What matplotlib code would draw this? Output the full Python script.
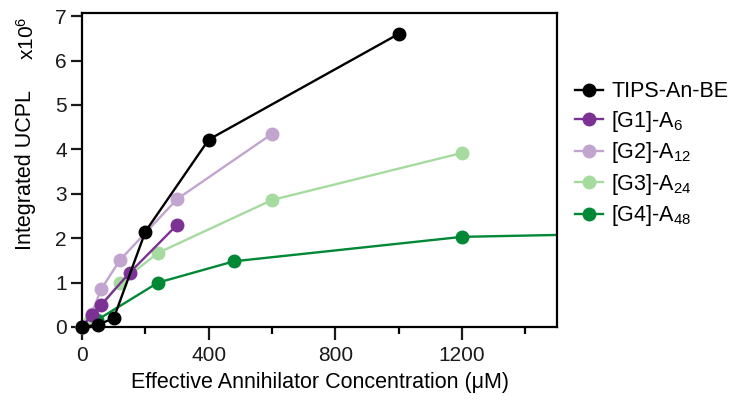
import matplotlib
matplotlib.use("Agg")
import matplotlib.pyplot as plt
from matplotlib.patches import Rectangle
from matplotlib.ticker import MultipleLocator

plt.rcParams['font.family'] = ['Liberation Sans', 'DejaVu Sans']
plt.rcParams['mathtext.fontset'] = 'custom'
plt.rcParams['mathtext.rm'] = 'Liberation Sans'
plt.rcParams['mathtext.it'] = 'Liberation Sans'
plt.rcParams['mathtext.bf'] = 'Liberation Sans'

# Effective annihilator concentration (uM) and integrated UCPL (x10^6)
tips_x = [0, 50, 100, 200, 400, 1000]
tips_y = [0, 0.05, 0.2, 2.15, 4.22, 6.6]

g1_x = [0, 30, 60, 150, 300]
g1_y = [0, 0.27, 0.5, 1.22, 2.3]

g2_x = [0, 30, 60, 120, 300, 600]
g2_y = [0, 0.3, 0.85, 1.51, 2.88, 4.35]

g3_x = [0, 24, 120, 240, 600, 1200]
g3_y = [0, 0.13, 1.0, 1.67, 2.86, 3.92]

g4_x = [0, 48, 240, 480, 1200, 2400]
g4_y = [0, 0.16, 1.0, 1.48, 2.03, 2.2]

series = [
    (tips_x, tips_y, "TIPS-An-BE", "#000000"),
    (g1_x, g1_y, "[G1]-A$_{6}$", "#7b3294"),
    (g2_x, g2_y, "[G2]-A$_{12}$", "#c2a5cf"),
    (g3_x, g3_y, "[G3]-A$_{24}$", "#a6dba0"),
    (g4_x, g4_y, "[G4]-A$_{48}$", "#008837"),
]

fig = plt.figure(figsize=(7.33, 4.0), dpi=100)
ax = fig.add_axes([0.112, 0.1825, 0.648, 0.785])

clip = Rectangle((-0.05, -0.05), 1.05, 1.1, transform=ax.transAxes,
                 facecolor='none', edgecolor='none')
ax.add_patch(clip)

for xs, ys, label, color in series[::-1]:
    line, = ax.plot(xs, ys, '-o', color=color, lw=1.7, ms=9, label=label)
    line.set_clip_path(clip)

ax.set_xlim(0, 1500)
ax.set_ylim(0, 7.07)
ax.xaxis.set_major_locator(MultipleLocator(400))
ax.xaxis.set_minor_locator(MultipleLocator(200))
ax.yaxis.set_major_locator(MultipleLocator(1))

for sp in ax.spines.values():
    sp.set_linewidth(1.6)
ax.tick_params(axis='both', which='major', direction='out', width=1.6,
               labelsize=15, colors='#1a1a1a')
ax.tick_params(axis='x', which='major', length=9, pad=5)
ax.tick_params(axis='x', which='minor', length=5, width=1.6)
ax.tick_params(axis='y', which='major', length=8, pad=3)

ax.set_xlabel("Effective Annihilator Concentration (μM)", fontsize=15.5, labelpad=5)
ax.set_ylabel("Integrated UCPL", fontsize=15.5, labelpad=14)
fig.text(0.037, 0.905, "x10$^{6}$", rotation=90, fontsize=15,
         ha='center', va='center')

handles, labels = ax.get_legend_handles_labels()
leg = ax.legend(handles[::-1], labels[::-1], loc='upper left',
                bbox_to_anchor=(1.019, 0.81), frameon=False, fontsize=15.5,
                handlelength=1.3, handletextpad=0.4, labelspacing=0.3,
                borderaxespad=0)

fig.savefig("out.png", dpi=100)
